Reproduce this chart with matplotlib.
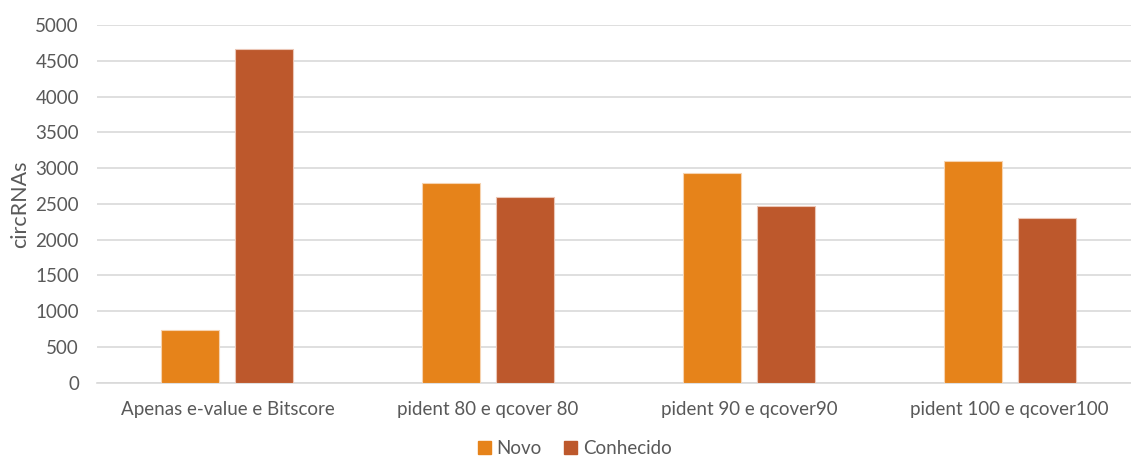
import matplotlib
matplotlib.use("Agg")
import matplotlib.pyplot as plt
import matplotlib.patches as mpatches
import numpy as np

# --- Data -------------------------------------------------------------------
categorias = ["Apenas e-value e Bitscore", "pident 80 e qcover 80",
              "pident 90 e qcover90", "pident 100 e qcover100"]
novo       = [740, 2795, 2925, 3100]
conhecido  = [4660, 2600, 2475, 2300]

COR_NOVO = "#E6831A"
COR_CONH = "#BD582C"
COR_TEXTO = "#595959"
COR_GRADE = "#D9D9D9"

plt.rcParams["font.family"] = ["Lato", "DejaVu Sans"]

fig = plt.figure(figsize=(11.31, 4.58), dpi=100)
ax = fig.add_axes([0.0858, 0.1648, 0.9222, 0.7806])

x = np.arange(len(categorias))
w = 0.2225
off = 0.142
ax.bar(x - off, novo, width=w, color=COR_NOVO, edgecolor="#F6D3B0",
       linewidth=0.8, zorder=3, label="Novo")
ax.bar(x + off, conhecido, width=w, color=COR_CONH, edgecolor="#EBC6B6",
       linewidth=0.8, zorder=3, label="Conhecido")

ax.set_xlim(-0.5, len(categorias) - 0.5)
ax.set_ylim(0, 5000)
ax.set_yticks(np.arange(0, 5001, 500))
ax.set_xticks(x)
ax.set_xticklabels(categorias)
ax.yaxis.grid(True, color=COR_GRADE, linewidth=1.2, zorder=0)
ax.set_axisbelow(True)

for s in ["top", "right", "left"]:
    ax.spines[s].set_visible(False)
ax.spines["bottom"].set_color(COR_GRADE)
ax.spines["bottom"].set_linewidth(1.2)

ax.tick_params(axis="both", length=0, colors=COR_TEXTO, labelsize=13.5)
ax.tick_params(axis="x", pad=13)
ax.tick_params(axis="y", pad=13)
ax.set_ylabel("circRNAs", color=COR_TEXTO, fontsize=15.5, labelpad=4)

# legend centred under the plot
handles = [mpatches.Patch(color=COR_NOVO, label="Novo"),
           mpatches.Patch(color=COR_CONH, label="Conhecido")]
fig.legend(handles=handles, loc="lower center", bbox_to_anchor=(0.508, -0.03),
           ncol=2, frameon=False, fontsize=13.5, handlelength=0.7,
           handleheight=0.7, handletextpad=0.3, columnspacing=1.2,
           labelcolor=COR_TEXTO, borderpad=0.3)

fig.savefig("out.png", dpi=100)
